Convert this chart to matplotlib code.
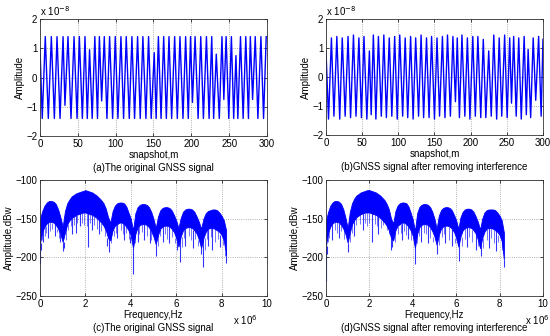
import matplotlib
matplotlib.use("Agg")
import matplotlib.pyplot as plt

# ---- time-domain signal, extrema (units of 1e-8) ----
t_orig = [0, 3, 7, 11, 15, 19, 22.5, 26.5, 30.5, 33,
          37, 41, 45, 49, 52, 56, 59.5, 62.5, 65.5, 69,
          72.5, 76, 78.5, 81.5, 85, 88.5, 92, 96, 99.5, 103,
          107, 110.5, 114, 118, 121.5, 125, 129, 132.5, 136, 140,
          143.5, 147, 151, 153.5, 156.5, 160, 163.5, 167, 170.5, 174,
          178, 181.5, 185, 189, 192.5, 196, 199, 201.5, 205, 209,
          212.5, 216, 220, 223.5, 227, 229.5, 233, 237, 240.5, 243,
          246, 249.5, 253, 256, 259, 261.5, 265, 268.5, 272, 275.5,
          278, 281, 284.5, 288, 292, 295.5, 299]
v_orig = [1.0, -1.4, 1.4, -1.4, 1.4, -1.4, 1.4, -1.4, 1.4, -0.95,
          1.4, -1.4, 1.4, -1.4, 1.4, -1.4, 1.4, -1.4, 0.95, -1.4,
          1.4, -1.4, 1.4, -0.8, 1.4, -1.4, 1.4, -1.4, 1.4, -1.4,
          1.4, -1.4, 1.4, -1.4, 1.4, -1.4, 1.4, -1.4, 1.4, -1.4,
          1.4, -1.4, 0.85, -1.4, 1.4, -1.4, 1.4, -1.4, 1.4, -1.4,
          1.4, -1.4, 1.4, -1.4, 1.4, -1.4, 1.4, -0.85, 1.4, -1.4,
          1.4, -1.4, 1.4, -1.4, 1.4, -1.4, 0.8, -1.4, 1.4, -0.75,
          1.4, -1.4, 1.4, -1.4, 0.75, -1.4, 1.4, -1.4, 1.4, -1.4,
          1.4, -0.75, 1.4, -1.4, 1.4, -1.4, 1.4]

t_clean = [0, 3.5, 7.5, 11, 15, 19, 22.5, 26.5, 30.5, 34,
           38, 41.5, 45.5, 49, 52.5, 56.5, 60, 62.5, 65.5, 69,
           72.5, 76.5, 80, 83.5, 87.5, 91, 95, 98.5, 102, 106,
           109.5, 113, 117, 120.5, 124, 128, 131.5, 135, 139, 142.5,
           146, 150, 153.5, 157, 161, 164.5, 168, 172, 175.5, 179,
           181.5, 184.5, 188, 192, 195.5, 199, 203, 206.5, 210, 214,
           217.5, 221, 225, 228.5, 232, 236, 239.5, 243, 247, 250.5,
           254, 256.5, 259.5, 263, 266.5, 270, 274, 277, 279.5, 283,
           286.5, 290, 294, 297.5, 300]
v_clean = [0.9, -1.45, 1.35, -1.35, 1.4, -1.45, 1.35, -1.35, 1.4, -1.4,
           1.45, -1.35, 1.35, -1.4, 1.4, -1.45, 0.9, -1.3, 1.45, -1.45,
           1.4, -1.35, 1.45, -1.4, 1.35, -1.35, 1.4, -1.45, 1.45, -1.35,
           1.35, -1.4, 1.4, -1.45, 1.35, -1.35, 1.45, -1.4, 1.35, -1.4,
           1.4, -1.45, 1.35, -1.35, 1.4, -1.4, 1.45, -1.35, 1.4, -0.85,
           1.35, -1.4, 1.45, -1.35, 1.35, -1.45, 1.4, -1.35, 1.4, -1.4,
           1.3, -1.4, 0.9, -1.35, 1.45, -1.45, 1.35, -1.35, 1.45, -1.4,
           1.35, -0.9, 1.4, -1.35, 1.35, -1.45, 1.4, -1.3, 0.95, -1.4,
           1.35, -0.8, 1.4, -1.35, 1.3]

# ---- spectrum envelopes (MHz, dBW) ----
freq = [0.0, 0.1, 0.2, 0.3, 0.4, 0.5, 0.6, 0.7, 0.8, 0.9,
        1.0, 1.1, 1.2, 1.3, 1.4, 1.5, 1.6, 1.7, 1.8, 1.9,
        2.0, 2.1, 2.2, 2.3, 2.4, 2.5, 2.6, 2.7, 2.8, 2.9,
        3.0, 3.1, 3.2, 3.3, 3.4, 3.5, 3.6, 3.7, 3.8, 3.9,
        4.0, 4.1, 4.2, 4.3, 4.4, 4.5, 4.6, 4.7, 4.8, 4.9,
        5.0, 5.1, 5.2, 5.3, 5.4, 5.5, 5.6, 5.7, 5.8, 5.9,
        6.0, 6.1, 6.2, 6.3, 6.4, 6.5, 6.6, 6.7, 6.8, 6.9,
        7.0, 7.1, 7.2, 7.3, 7.4, 7.5, 7.6, 7.7, 7.8, 7.9,
        8.0, 8.1, 8.2]

upper_orig = [-150, -140, -133, -129, -127, -127, -128, -131, -138, -148,
              -160, -140, -130, -125, -121, -119, -117, -116, -115, -114,
              -113, -114, -115, -116, -118, -120, -123, -126, -130, -137,
              -148, -155, -140, -133, -130, -129, -129, -130, -134, -142,
              -150, -165, -143, -135, -132, -131, -131, -132, -135, -141,
              -150, -162, -147, -139, -136, -135, -135, -136, -139, -145,
              -152, -162, -149, -141, -138, -137, -137, -138, -141, -147,
              -154, -163, -150, -143, -140, -139, -138, -138, -139, -142,
              -146, -152, -165]
lower_orig = [-182, -167, -160, -156, -154, -154, -155, -158, -163, -170,
              -180, -168, -157, -152, -149, -147, -145, -144, -143, -142,
              -142, -143, -144, -145, -147, -149, -152, -155, -159, -165,
              -175, -178, -165, -159, -157, -155, -155, -157, -160, -165,
              -172, -188, -170, -161, -158, -157, -157, -158, -161, -166,
              -173, -183, -171, -163, -160, -159, -159, -160, -163, -167,
              -175, -186, -173, -165, -162, -161, -161, -162, -165, -169,
              -177, -188, -175, -167, -163, -162, -162, -163, -165, -167,
              -171, -178, -198]

upper_clean = [-152, -141, -133, -129, -127, -127, -128, -131, -138, -149,
               -162, -141, -130, -124, -120, -118, -116, -115, -114, -113,
               -113, -114, -115, -116, -118, -120, -123, -126, -131, -138,
               -150, -156, -140, -133, -130, -129, -129, -130, -134, -142,
               -151, -166, -143, -135, -132, -131, -131, -132, -135, -141,
               -150, -163, -146, -139, -136, -135, -135, -136, -139, -145,
               -152, -163, -148, -141, -138, -137, -137, -138, -141, -147,
               -154, -164, -150, -142, -139, -138, -138, -138, -139, -142,
               -146, -152, -168]
lower_clean = [-185, -168, -160, -156, -154, -154, -155, -158, -163, -170,
               -181, -168, -157, -152, -148, -146, -144, -143, -142, -142,
               -142, -143, -144, -145, -147, -149, -152, -155, -159, -165,
               -175, -178, -165, -159, -157, -155, -155, -157, -160, -165,
               -172, -188, -170, -161, -158, -157, -157, -158, -161, -166,
               -173, -184, -171, -163, -160, -159, -159, -160, -163, -167,
               -175, -186, -173, -165, -162, -161, -161, -162, -165, -169,
               -177, -188, -175, -167, -163, -162, -162, -163, -165, -167,
               -171, -179, -203]

# deep dips below the dense band
spike_f_orig = [0.0, 0.05, 0.15, 0.35, 0.65, 0.9, 1.0, 1.05, 1.4, 1.6,
                1.75, 2.1, 2.3, 2.6, 2.95, 3.05, 3.4, 3.7, 3.95, 4.1,
                4.3, 4.6, 4.85, 5.1, 5.4, 5.7, 6.05, 6.15, 6.4, 6.75,
                7.1, 7.17, 7.4, 7.6, 7.95, 8.2]
spike_d_orig = [-207, -190, -180, -175, -172, -180, -192, -188, -170, -168,
                -160, -186, -165, -170, -185, -193, -175, -178, -182, -221,
                -180, -178, -182, -198, -180, -182, -190, -206, -185, -188,
                -195, -212, -185, -190, -186, -207]

spike_f_clean = [0.0, 0.05, 0.3, 0.6, 1.0, 1.3, 1.7, 2.1, 2.4, 3.0,
                 3.05, 3.5, 3.8, 4.1, 4.4, 4.7, 5.1, 5.5, 5.8, 6.15,
                 6.5, 6.9, 7.15, 7.5, 7.85, 8.2]
spike_d_clean = [-230, -195, -178, -175, -193, -172, -165, -180, -170, -190,
                 -186, -178, -176, -208, -180, -182, -196, -182, -185, -205,
                 -186, -190, -198, -188, -192, -212]

# lighter streaks under the dense band
streak_f_orig = [0.1, 0.2, 0.25, 0.45, 0.55, 0.75, 0.85, 1.15, 1.25, 1.35,
                 1.5, 1.65, 1.85, 1.95, 2.05, 2.2, 2.4, 2.5, 2.7, 2.85,
                 3.15, 3.25, 3.35, 3.55, 3.65, 3.8, 3.9, 4.2, 4.35, 4.5,
                 4.7, 4.9, 5.2, 5.3, 5.5, 5.6, 5.8, 5.95, 6.25, 6.35,
                 6.55, 6.65, 6.85, 6.95, 7.25, 7.35, 7.55, 7.7, 7.85, 8.05, 8.15]
streak_d_orig = [-178, -172, -168, -166, -163, -167, -175, -178, -165, -160,
                 -158, -156, -155, -158, -160, -156, -158, -163, -166, -172,
                 -182, -172, -168, -165, -170, -168, -176, -182, -170, -167,
                 -172, -178, -185, -172, -170, -176, -173, -182, -186, -175,
                 -172, -178, -176, -185, -190, -176, -174, -180, -176, -184, -193]

streak_f_clean = [0.1, 0.15, 0.4, 0.5, 0.7, 0.85, 1.1, 1.2, 1.4, 1.55,
                  1.8, 1.9, 2.0, 2.25, 2.35, 2.55, 2.65, 2.8, 2.9, 3.2,
                  3.3, 3.45, 3.6, 3.7, 3.9, 4.2, 4.3, 4.5, 4.6, 4.8,
                  4.95, 5.2, 5.35, 5.45, 5.65, 5.95, 6.25, 6.4, 6.6, 6.75,
                  7.0, 7.25, 7.4, 7.6, 7.75, 7.95, 8.1]
streak_d_clean = [-180, -175, -165, -168, -166, -176, -180, -168, -158, -157,
                  -155, -159, -156, -157, -160, -162, -158, -165, -170, -180,
                  -170, -168, -166, -171, -177, -182, -172, -168, -170, -175,
                  -180, -184, -174, -170, -178, -182, -185, -176, -173, -180,
                  -185, -188, -178, -175, -182, -180, -190]

plt.rcParams['font.family'] = ['Liberation Sans', 'DejaVu Sans']
plt.rcParams['font.size'] = 7

fig = plt.figure(figsize=(5.5, 3.36), dpi=100)
blue = '#0000ff'


def style(ax):
    ax.tick_params(direction='in', length=2.5, width=0.5, top=True, right=True, pad=2)
    for s in ax.spines.values():
        s.set_linewidth(0.6)
        s.set_color('#333333')
    ax.grid(True, linestyle=':', color='#999999', linewidth=0.6)
    ax.set_axisbelow(True)


def time_panel(rect, t, v, caption):
    ax = fig.add_axes(rect)
    ax.plot(t, v, color=blue, linewidth=1.0)
    ax.set_xlim(0, 300)
    ax.set_ylim(-2, 2)
    ax.set_xticks([0, 50, 100, 150, 200, 250, 300])
    ax.set_yticks([-2, -1, 0, 1, 2])
    ax.set_ylabel('Amplitude', labelpad=1)
    ax.set_xlabel('snapshot,m', labelpad=1)
    style(ax)
    ax.text(0.0, 1.01, r'x 10$^{-8}$', transform=ax.transAxes, ha='left', va='bottom')
    ax.text(0.5, -0.23, caption, transform=ax.transAxes, ha='center', va='top')
    return ax


def near(vals, f):
    return vals[min(int(round(f * 10)), len(vals) - 1)]


def spec_panel(rect, up, lo, sf, sd, tf, td, caption, xoff):
    ax = fig.add_axes(rect)
    ax.fill_between(freq, lo, up, color=blue, linewidth=0.6, edgecolor=blue)
    ax.vlines(tf, td, [near(lo, f) for f in tf], color=blue, linewidth=0.7, alpha=0.55)
    ax.vlines(sf, sd, [near(lo, f) for f in sf], color=blue, linewidth=0.8, alpha=0.8)
    ax.set_xlim(0, 10)
    ax.set_ylim(-250, -100)
    ax.set_xticks([0, 2, 4, 6, 8, 10])
    ax.set_yticks([-250, -200, -150, -100])
    ax.set_ylabel('Amplitude,dBw', labelpad=1)
    ax.set_xlabel('Frequency,Hz', labelpad=1)
    style(ax)
    ax.text(xoff, -0.15, r'x 10$^{6}$', transform=ax.transAxes, ha='right', va='top')
    ax.text(0.5, -0.235, caption, transform=ax.transAxes, ha='center', va='top')
    return ax


time_panel([0.0727, 0.5952, 0.4127, 0.348], t_orig, v_orig, '(a)The original GNSS signal')
time_panel([0.5927, 0.5982, 0.3945, 0.345], t_clean, v_clean,
           '(b)GNSS signal after removing interference')
spec_panel([0.0727, 0.119, 0.4127, 0.345], upper_orig, lower_orig,
           spike_f_orig, spike_d_orig, streak_f_orig, streak_d_orig,
           '(c)The original GNSS signal', 0.96)
spec_panel([0.5927, 0.119, 0.3945, 0.345], upper_clean, lower_clean,
           spike_f_clean, spike_d_clean, streak_f_clean, streak_d_clean,
           '(d)GNSS signal after removing interference', 1.03)

fig.savefig('out.png', dpi=100)
